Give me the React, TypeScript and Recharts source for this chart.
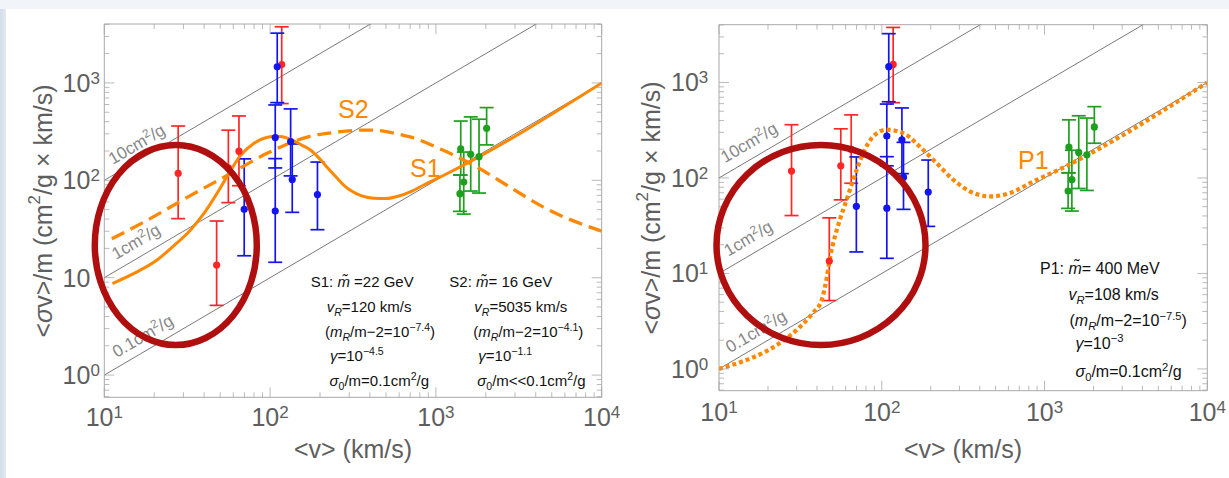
import React from 'react';
import { ComposedChart, Line, Scatter, ErrorBar, XAxis, YAxis, ReferenceArea } from 'recharts';

// halo observations: mean velocity (km/s), <σv>/m and lower / upper error bounds
const redV = [27.9, 47.6, 56, 64.9, 117.5];
const redY = [118, 13.5, 134, 199, 1546];
const redLo = [40.4, 5.2, 59, 88, 614];
const redHi = [361, 38.2, 327, 458, 3770];

const blueV = [69.8, 107.4, 107.4, 110.4, 133, 136, 193];
const blueY = [50.4, 48.3, 275, 1462, 250, 102, 71.3];
const blueLo = [16.8, 14.4, 134, 628, 111, 46.9, 31.1];
const blueHi = [166, 167, 594, 3244, 541, 236, 154];

const greenV = [1396, 1412, 1472, 1622, 1820, 2023];
const greenY = [72.9, 210, 96, 185, 175, 342];
const greenLo = [48, 113, 45, 77.6, 74, 231];
const greenHi = [113.5, 406, 195, 448, 424, 558];

// model curves
const s1V = [11.2, 15, 20.7, 26, 32.9, 40, 47, 56, 66, 80, 95, 110, 130, 155, 175, 200, 220, 250, 280, 350, 420, 500, 600, 700, 850, 1109, 10000];
const s1Y = [8.7, 11, 15.1, 21, 30.6, 46, 70, 115, 178, 240, 275, 283, 268, 230, 205, 165, 137, 108, 88, 70, 65.5, 65, 69, 76, 90, 112, 1000];

const s2V = [11.1, 18.9, 31.4, 56, 95.3, 174, 250, 318, 380, 440, 560, 699, 1109, 1762, 2800, 4446, 10000];
const s2Y = [25.1, 40.4, 66.4, 114, 188, 283, 312, 325, 328, 326, 305, 279, 203, 137, 85, 53, 30];

const p1V = [10, 38, 42.8, 45.9, 48.1, 50.4, 55.3, 60.8, 66.8, 76.9, 88.7, 107, 135.5, 175, 217, 275, 348, 462, 613, 853, 1200, 10000];
const p1Y = [1.0, 3.9, 5.3, 9.0, 14.6, 21, 36.5, 59.2, 95.8, 182, 272, 320, 295, 205, 143, 95.8, 72.3, 64, 69.5, 91.8, 120, 1000];

// constant σ/m guide lines (cm^2/g)
const guideK = [10, 1, 0.1];

const xTicks = [10, 20, 30, 40, 50, 60, 70, 80, 90, 100, 200, 300, 400, 500, 600, 700, 800, 900, 1000, 2000, 3000, 4000, 5000, 6000, 7000, 8000, 9000, 10000];
const yTicks = [0.6, 0.7, 0.8, 0.9, 1, 2, 3, 4, 5, 6, 7, 8, 9, 10, 20, 30, 40, 50, 60, 70, 80, 90, 100, 200, 300, 400, 500, 600, 700, 800, 900, 1000, 2000, 3000, 4000];

const Y_MIN = 0.5916;
const Y_MAX = 4027;

const FONT = '"Liberation Sans", Arial, Helvetica, sans-serif';
const RED = '#ff2626';
const BLUE = '#1414ee';
const GREEN = '#1f9f1f';
const ORANGE = '#ff8800';
const RING = '#b00f0f';
const GUIDE = '#6a6a6a';
const FRAME = '#a8a8a8';
const AXIS_INK = '#5e5e5e';
const GUIDE_INK = '#878787';

const AXIS_W = 60;
const AXIS_H = 30;

const pts = (vs: number[], ys: number[]) => vs.map((v, i) => ({ v, y: ys[i] }));
const bars = (vs: number[], ys: number[], lo: number[], hi: number[]) =>
  vs.map((v, i) => ({ v, y: ys[i], err: [ys[i] - lo[i], hi[i] - ys[i]] }));
const guideLine = (k: number) => [{ v: 10, y: 10 * k }, { v: 10000, y: 10000 * k }];

const groups = [
  { color: RED, data: bars(redV, redY, redLo, redHi) },
  { color: BLUE, data: bars(blueV, blueY, blueLo, blueHi) },
  { color: GREEN, data: bars(greenV, greenY, greenLo, greenHi) },
];

const decade = (v: number) => {
  const e = Math.log10(v);
  const r = Math.round(e);
  return Math.abs(e - r) < 1e-6 ? r : null;
};

function XTick(props: any) {
  const { x, y, payload, plotH, labelDy } = props;
  const e = decade(payload.value);
  const len = e !== null ? 10 : 5;
  const top = y - plotH;
  return (
    <g>
      <line x1={x} y1={y} x2={x} y2={y - len} stroke={FRAME} strokeWidth={0.8} />
      <line x1={x} y1={top} x2={x} y2={top + len} stroke={FRAME} strokeWidth={0.8} />
      {e !== null && (
        <text x={x} y={y + labelDy} textAnchor="middle" fontFamily={FONT} fontSize={25} fill={AXIS_INK}>
          10<tspan dy={-8} fontSize={17}>{e}</tspan>
        </text>
      )}
    </g>
  );
}

function YTick(props: any) {
  const { x, y, payload, plotW, labelDx, plainTen } = props;
  const e = decade(payload.value);
  const len = e !== null ? 10 : 5;
  return (
    <g>
      <line x1={x} y1={y} x2={x + len} y2={y} stroke={FRAME} strokeWidth={0.8} />
      <line x1={x + plotW} y1={y} x2={x + plotW - len} y2={y} stroke={FRAME} strokeWidth={0.8} />
      {e !== null && (
        <text x={x - labelDx} y={y + 9} fontFamily={FONT} fontSize={25} fill={AXIS_INK}>
          10{!(plainTen && e === 1) && <tspan dy={-8} fontSize={17}>{e}</tspan>}
        </text>
      )}
    </g>
  );
}

type Margin = { top: number; right: number; bottom: number; left: number };

function Panel(props: {
  width: number;
  height: number;
  margin: Margin;
  yLabelDx: number;
  xLabelDy: number;
  plainTen?: boolean;
  children?: React.ReactNode;
}) {
  const { width, height, margin, yLabelDx, xLabelDy, plainTen, children } = props;
  const plotW = width - margin.left - margin.right - AXIS_W;
  const plotH = height - margin.top - margin.bottom - AXIS_H;
  return (
    <ComposedChart width={width} height={height} margin={margin}>
      <XAxis
        dataKey="v"
        type="number"
        scale="log"
        domain={[10, 10000]}
        allowDataOverflow
        ticks={xTicks}
        interval={0}
        height={AXIS_H}
        tickSize={0}
        tickMargin={0}
        axisLine={false}
        tickLine={false}
        tick={(p: any) => <XTick {...p} plotH={plotH} labelDy={xLabelDy} />}
      />
      <YAxis
        type="number"
        scale="log"
        domain={[Y_MIN, Y_MAX]}
        allowDataOverflow
        ticks={yTicks}
        interval={0}
        width={AXIS_W}
        tickSize={0}
        tickMargin={0}
        axisLine={false}
        tickLine={false}
        tick={(p: any) => <YTick {...p} plotW={plotW} labelDx={yLabelDx} plainTen={plainTen} />}
      />
      <ReferenceArea x1={10} x2={10000} y1={Y_MIN} y2={Y_MAX} fill="none" stroke={FRAME} strokeWidth={1} ifOverflow="visible" />
      {guideK.map((k) => (
        <Line key={k} data={guideLine(k)} dataKey="y" type="linear" stroke={GUIDE} strokeWidth={0.9} dot={false} isAnimationActive={false} />
      ))}
      {groups.map((g) => (
        <Scatter
          key={g.color}
          data={g.data}
          dataKey="y"
          isAnimationActive={false}
          shape={(p: any) => <circle cx={p.cx} cy={p.cy} r={3.6} fill={g.color} />}
        >
          <ErrorBar dataKey="err" direction="y" width={7} stroke={g.color} strokeWidth={1.7} isAnimationActive={false} />
        </Scatter>
      ))}
      {children}
    </ComposedChart>
  );
}

// tiny markup: *x* italic, ^{x} superscript, _{x} subscript
type Seg = { t: string; it: boolean; pos: 0 | 1 | -1 };
function parse(src: string): Seg[] {
  const out: Seg[] = [];
  for (const tok of src.split(/(\^\{[^}]*\}|_\{[^}]*\}|\*[^*]*\*)/)) {
    if (!tok) continue;
    if (tok.startsWith('^{') || tok.startsWith('_{')) {
      let inner = tok.slice(2, -1);
      const it = inner.startsWith('*');
      if (it) inner = inner.slice(1, -1);
      out.push({ t: inner, it, pos: tok[0] === '^' ? 1 : -1 });
    } else if (tok.startsWith('*')) {
      out.push({ t: tok.slice(1, -1), it: true, pos: 0 });
    } else {
      out.push({ t: tok, it: false, pos: 0 });
    }
  }
  return out;
}

function Rich({ x, y, src, size, fill = '#111' }: { x: number; y: number; src: string; size: number; fill?: string }) {
  let shift = 0;
  return (
    <text x={x} y={y} fontSize={size} fontFamily={FONT} fill={fill}>
      {parse(src).map((s, i) => {
        const target = s.pos === 1 ? -size * 0.38 : s.pos === -1 ? size * 0.28 : 0;
        const dy = target - shift;
        shift = target;
        return (
          <tspan key={i} dy={dy} fontSize={s.pos ? size * 0.7 : size} fontStyle={s.it ? 'italic' : undefined}>
            {s.t}
          </tspan>
        );
      })}
    </text>
  );
}

const s1Text = ['S1: *m\u0303* =22 GeV', '*v*_{*R*}=120 km/s', '(*m*_{*R*}/m\u22122=10^{\u22127.4})', '*\u03b3*=10^{\u22124.5}', '*\u03c3*_{0}/m=0.1cm^{2}/g'];
const s2Text = ['S2: *m\u0303*= 16 GeV', '*v*_{*R*}=5035 km/s', '(*m*_{*R*}/m\u22122=10^{\u22124.1})', '*\u03b3*=10^{\u22121.1}', '*\u03c3*_{0}/m<<0.1cm^{2}/g'];
const p1Text = ['P1: *m\u0303*= 400 MeV', '*v*_{*R*}=108 km/s', '(*m*_{*R*}/m\u22122=10^{\u22127.5})', '*\u03b3*=10^{\u22123}', '*\u03c3*_{0}/m=0.1cm^{2}/g'];

const s1X = [310.7, 326.7, 325, 330, 329.5];
const s2X = [449.3, 474.3, 473.3, 478.3, 477.3];
const leftRows = [287, 311.5, 337, 361, 386];
const p1X = [1040, 1068.5, 1069.5, 1075.5, 1075.5];
const rightRows = [274, 299.5, 326, 348.5, 377];

const guideNames = ['10cm^{2}/g', '1cm^{2}/g', '0.1cm^{2}/g'];
const leftGuideAt = [[112.7, 165], [116, 260], [116.7, 358]];
const rightGuideAt = [[725, 163.3], [728.3, 256.7], [730, 353.3]];

function YTitle({ cx, cy }: { cx: number; cy: number }) {
  return (
    <text
      transform={`rotate(-90 ${cx} ${cy})`}
      x={cx}
      y={cy}
      textAnchor="middle"
      dominantBaseline="central"
      fontFamily={FONT}
      fontSize={25}
      fill={AXIS_INK}
    >
      &lt;<tspan fontStyle="italic">σ</tspan>v&gt;/m (cm<tspan dy={-9} fontSize={17}>2</tspan>
      <tspan dy={9}>/g × km/s)</tspan>
    </text>
  );
}

export default function App() {
  return (
    <div style={{ position: 'absolute', left: 0, top: 0, width: 1229, height: 478, background: '#f1f4f8', overflow: 'hidden' }}>
      <div style={{ position: 'absolute', left: 0, top: 9, width: 6, height: 469, background: 'linear-gradient(to right, #d3ddea, #e3e9f1)' }} />
      <div style={{ position: 'absolute', left: 6, top: 9, right: 0, bottom: 0, background: '#ffffff' }} />

      <div style={{ position: 'absolute', left: 0, top: 0 }}>
        <Panel width={620} height={478} margin={{ top: 24, right: 18.3, bottom: 50.7, left: 44.3 }} yLabelDx={41.7} xLabelDy={28.5} plainTen>
          <Line data={pts(s1V, s1Y)} dataKey="y" type="monotone" stroke={ORANGE} strokeWidth={3} dot={false} isAnimationActive={false} />
          <Line data={pts(s2V, s2Y)} dataKey="y" type="monotone" stroke={ORANGE} strokeWidth={3.3} strokeDasharray="14 7" dot={false} isAnimationActive={false} />
        </Panel>
      </div>

      <div style={{ position: 'absolute', left: 620, top: 0 }}>
        <Panel width={609} height={478} margin={{ top: 24.7, right: 21.7, bottom: 57.3, left: 39 }} yLabelDx={48} xLabelDy={30.5}>
          <Line data={pts(p1V, p1Y)} dataKey="y" type="monotone" stroke={ORANGE} strokeWidth={4.2} strokeDasharray="4 3" dot={false} isAnimationActive={false} />
        </Panel>
      </div>

      <svg width={1229} height={478} style={{ position: 'absolute', left: 0, top: 0, pointerEvents: 'none' }}>
        <YTitle cx={42.5} cy={211} />
        <YTitle cx={651} cy={208} />
        <text x={353} y={458} textAnchor="middle" fontFamily={FONT} fontSize={25} fill={AXIS_INK}>&lt;v&gt; (km/s)</text>
        <text x={963} y={458} textAnchor="middle" fontFamily={FONT} fontSize={25} fill={AXIS_INK}>&lt;v&gt; (km/s)</text>

        {guideNames.map((g, i) => (
          <g key={g}>
            <g transform={`translate(${leftGuideAt[i][0]} ${leftGuideAt[i][1]}) rotate(-30.4)`}>
              <Rich x={0} y={0} src={g} size={17} fill={GUIDE_INK} />
            </g>
            <g transform={`translate(${rightGuideAt[i][0]} ${rightGuideAt[i][1]}) rotate(-30.4)`}>
              <Rich x={0} y={0} src={g} size={17} fill={GUIDE_INK} />
            </g>
          </g>
        ))}

        <text x={338} y={118.3} fontFamily={FONT} fontSize={25} fill={ORANGE}>S2</text>
        <text x={410} y={176.7} fontFamily={FONT} fontSize={25} fill={ORANGE}>S1</text>
        <text x={1018} y={169} fontFamily={FONT} fontSize={25} fill={ORANGE}>P1</text>

        {s1Text.map((t, i) => <Rich key={'a' + i} x={s1X[i]} y={leftRows[i]} src={t} size={15} />)}
        {s2Text.map((t, i) => <Rich key={'b' + i} x={s2X[i]} y={leftRows[i]} src={t} size={15} />)}
        {p1Text.map((t, i) => <Rich key={'c' + i} x={p1X[i]} y={rightRows[i]} src={t} size={16} />)}

        <ellipse cx={175.8} cy={245} rx={81} ry={100} fill="none" stroke={RING} strokeWidth={6.5} />
        <ellipse cx={821} cy={245} rx={104.5} ry={100} fill="none" stroke={RING} strokeWidth={6.5} />
      </svg>
    </div>
  );
}
